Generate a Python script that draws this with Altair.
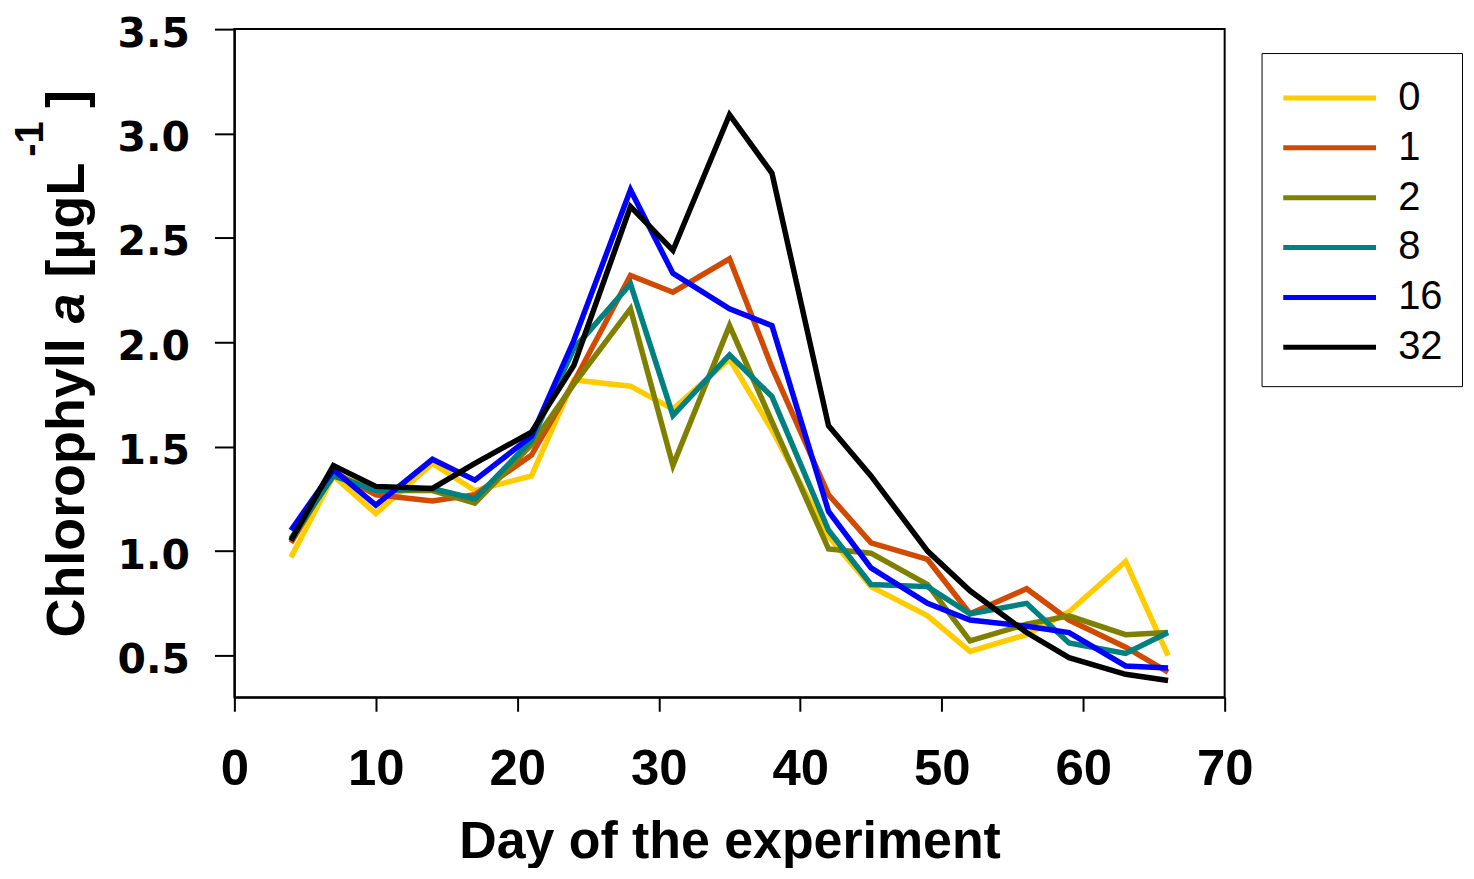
import altair as alt
import pandas as pd

# ---- data ----
days = [4, 7, 10, 14, 17, 21, 24, 28, 31, 35, 38, 42, 45, 49, 52, 56, 59, 63, 66]
groups = ["0", "1", "2", "8", "16", "32"]
colors = ["#FFCC00", "#D04A02", "#808000", "#008080", "#0000FF", "#000000"]

chl_0 = [0.97, 1.36, 1.18, 1.42, 1.29, 1.36, 1.82, 1.79, 1.68, 1.92, 1.58, 1.07, 0.83, 0.69, 0.52, 0.60, 0.71, 0.95, 0.50]
chl_1 = [1.04, 1.38, 1.27, 1.24, 1.27, 1.46, 1.81, 2.32, 2.24, 2.40, 1.88, 1.27, 1.04, 0.96, 0.70, 0.82, 0.67, 0.54, 0.42]
chl_2 = [1.05, 1.37, 1.29, 1.29, 1.23, 1.51, 1.80, 2.16, 1.41, 2.08, 1.62, 1.01, 0.99, 0.84, 0.57, 0.65, 0.69, 0.60, 0.61]
chl_8 = [1.06, 1.36, 1.29, 1.30, 1.25, 1.53, 1.97, 2.28, 1.65, 1.94, 1.74, 1.10, 0.84, 0.83, 0.70, 0.75, 0.56, 0.51, 0.61]
chl_16 = [1.10, 1.39, 1.22, 1.44, 1.34, 1.55, 2.01, 2.73, 2.33, 2.16, 2.08, 1.19, 0.92, 0.75, 0.67, 0.64, 0.61, 0.45, 0.44]
chl_32 = [1.05, 1.41, 1.31, 1.30, 1.42, 1.57, 1.89, 2.65, 2.44, 3.09, 2.81, 1.60, 1.36, 1.00, 0.81, 0.61, 0.49, 0.41, 0.38]

y_ticks = [0.5, 1.0, 1.5, 2.0, 2.5, 3.0, 3.5]
x_ticks = [0, 10, 20, 30, 40, 50, 60, 70]

series = [chl_0, chl_1, chl_2, chl_8, chl_16, chl_32]
rows = []
for g, vals in zip(groups, series):
    for d, v in zip(days, vals):
        rows.append({"day": d, "chl": v, "group": g})
df = pd.DataFrame(rows)

W, H = 993, 670
FONT = "Liberation Sans"

lines = alt.Chart(df).mark_line(strokeWidth=5.5).encode(
    x=alt.X("day:Q",
            scale=alt.Scale(domain=[0, 70], nice=False, zero=False),
            axis=alt.Axis(values=x_ticks, title="Day of the experiment",
                          labelFont=FONT, labelFontSize=51, labelFontWeight="bold",
                          labelColor="black", labelPadding=33, tickSize=14,
                          labelFlush=False,
                          titleFont=FONT, titleFontSize=52, titleFontWeight="bold",
                          titleColor="black", titleBaseline="alphabetic", titleY=161,
                          grid=False)),
    y=alt.Y("chl:Q",
            scale=alt.Scale(domain=[0.3, 3.5], nice=False, zero=False),
            axis=alt.Axis(values=y_ticks, format=".1f", title=None,
                          labelFont="DejaVu Sans", labelFontSize=41, labelFontWeight="bold",
                          labelColor="black", labelPadding=25, tickSize=20, grid=False,
                          labelFlush=False, labelBaseline="alphabetic", labelOffset=17)),
    color=alt.Color("group:N",
                    scale=alt.Scale(domain=groups, range=colors),
                    sort=groups,
                    legend=alt.Legend(title=None, orient="none", legendX=1030, legendY=24,
                                      symbolType="M-1,0L3,0", symbolSize=2162,
                                      symbolStrokeWidth=5, labelFont=FONT,
                                      labelFontSize=40, labelColor="black",
                                      labelOffset=66, padding=19, rowPadding=4,
                                      strokeColor="black", fillColor="white")),
    order=alt.Order("group:N", sort="ascending"),
)

one = alt.Data(values=[{"k": 0}])


def piece(text, x, y, size=54, style="normal"):
    return alt.Chart(one).mark_text(
        text=text, angle=270, align="left", baseline="alphabetic",
        font=FONT, fontSize=size, fontWeight="bold", fontStyle=style, color="black"
    ).encode(x=alt.value(x), y=alt.value(y))


title_parts = [
    piece("Chlorophyll", -151, 610),
    piece("a", -151, 295, style="italic"),
    piece("[µgL", -151, 249),
    piece("-1", -192, 128, size=40),
    piece("]", -151, 79),
]

chart = alt.layer(lines, *title_parts).properties(
    width=W, height=H,
    padding={"left": 227, "top": 20, "right": 242, "bottom": 170},
    autosize=alt.AutoSizeParams(type="none"),
).configure_view(stroke="black", strokeWidth=2).configure_axis(
    domainColor="black", domainWidth=2, tickColor="black", tickWidth=2
)

chart.save("out.html", embed_options={"renderer": "svg", "actions": False})
